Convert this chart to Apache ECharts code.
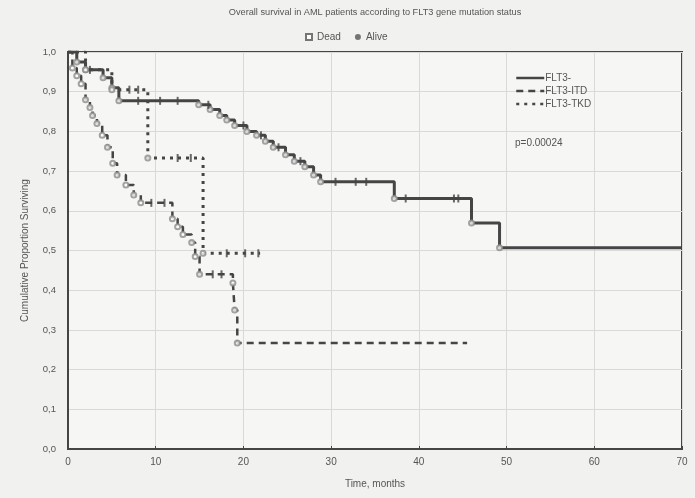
<!DOCTYPE html>
<html><head><meta charset="utf-8">
<script src="https://cdn.jsdelivr.net/npm/echarts@6/dist/echarts.min.js"></script>
<style>html,body{margin:0;padding:0;background:#f1f1ef}#c{width:695px;height:498px}</style>
</head><body><div id="c"></div>
<script>
// FLT3- (wild type): event times and survival after each event
const negTimes = [0, 1, 2, 4, 5, 5.8, 14.9, 16.2, 17.3, 18.1, 19, 20.4, 21.5, 22.5, 23.4, 24.8, 25.8, 27, 28, 28.8, 37.2, 46, 49.2];
const negSurv  = [1.0, 0.975, 0.955, 0.935, 0.91, 0.877, 0.867, 0.855, 0.84, 0.829, 0.815, 0.80, 0.79, 0.775, 0.76, 0.741, 0.725, 0.711, 0.69, 0.673, 0.631, 0.569, 0.507];
const negEnd = 70;
const negCensor = [2.5, 8, 10.5, 12.5, 16, 20, 22, 24, 26.5, 30.5, 32.8, 34, 38.5, 44, 44.5];

// FLT3-ITD
const itdTimes = [0, 0.5, 1, 1.5, 2, 2.5, 2.8, 3.3, 3.9, 4.5, 5.1, 5.6, 6.6, 7.5, 8.3, 11.9, 12.5, 13.1, 14.1, 14.5, 15, 18.8, 19.0, 19.3];
const itdSurv  = [1.0, 0.96, 0.94, 0.92, 0.88, 0.86, 0.84, 0.82, 0.79, 0.76, 0.72, 0.69, 0.665, 0.64, 0.62, 0.58, 0.56, 0.54, 0.52, 0.485, 0.44, 0.418, 0.35, 0.267];
const itdEnd = 45.5;
const itdCensor = [9.5, 11, 16.5, 17.5];

// FLT3-TKD
const tkdTimes = [0, 2, 5, 9.1, 15.4];
const tkdSurv  = [1.0, 0.955, 0.905, 0.733, 0.493];
const tkdEnd = 21.9;
const tkdCensor = [7, 8, 12.5, 14, 18.1, 20.2, 21.7];

const xTicks = [0, 10, 20, 30, 40, 50, 60, 70];
const yTicks = [0, 0.1, 0.2, 0.3, 0.4, 0.5, 0.6, 0.7, 0.8, 0.9, 1.0];

const titleText = 'Overall survival in AML patients according to FLT3 gene mutation status';
const pText = 'p=0.00024';

function curve(times, surv, end) {
  const d = times.map((t, i) => [t, surv[i]]);
  d.push([end, surv[surv.length - 1]]);
  return d;
}
function events(times, surv) {
  return times.slice(1).map((t, i) => [t, surv[i + 1]]);
}
function survAt(times, surv, t) {
  let v = surv[0];
  for (let i = 0; i < times.length; i++) if (times[i] <= t) v = surv[i];
  return v;
}
function censors(times, surv, cs) { return cs.map(t => [t, survAt(times, surv, t)]); }

const dead = [].concat(events(negTimes, negSurv), events(itdTimes, itdSurv), events(tkdTimes, tkdSurv));
const alive = [].concat(censors(negTimes, negSurv, negCensor), censors(itdTimes, itdSurv, itdCensor), censors(tkdTimes, tkdSurv, tkdCensor));

const ink = '#454545';
const txt = '#555';
const font = 'Liberation Sans, Arial, sans-serif';

const chart = echarts.init(document.getElementById('c'));
chart.setOption({
  backgroundColor: '#f1f1ef',
  animation: false,
  textStyle: { fontFamily: font },
  grid: { left: 68, right: 13, top: 52, bottom: 49, show: true, backgroundColor: '#f6f6f4', borderColor: ink, borderWidth: 2 },
  graphic: [
    { type: 'text', x: 375, y: 8, style: { text: titleText, font: '9.2px ' + font, fill: txt, align: 'center' } },
    { type: 'text', x: 515, y: 138, style: { text: pText, font: '10px ' + font, fill: txt } }
  ],
  legend: [
    { data: [{ name: 'Dead', icon: 'emptyRect' }, { name: 'Alive', icon: 'circle' }], top: 27, left: 300, itemWidth: 6, itemHeight: 6, itemGap: 14,
      itemStyle: { color: '#555', borderColor: '#555' },
      textStyle: { fontSize: 10, color: txt, fontFamily: font } },
    { data: ['FLT3-', 'FLT3-ITD', 'FLT3-TKD'], orient: 'vertical', left: 510, top: 68, itemWidth: 28, itemHeight: 8, itemGap: 3,
      itemStyle: { opacity: 0 }, lineStyle: { width: 2.5 },
      textStyle: { fontSize: 10, color: txt, fontFamily: font, padding: [0, 0, 0, -4] } }
  ],
  xAxis: {
    type: 'value', min: 0, max: 70, interval: 10,
    name: 'Time, months', nameLocation: 'middle', nameGap: 30,
    nameTextStyle: { fontSize: 10, color: txt },
    axisLine: { show: true, lineStyle: { color: ink, width: 2 } },
    axisTick: { show: true, length: 3, inside: true, lineStyle: { color: ink } },
    axisLabel: { fontSize: 10, color: txt, margin: 8, formatter: v => xTicks.includes(v) ? String(v) : '' },
    splitLine: { show: true, lineStyle: { color: '#d9d9d7', width: 1 } }
  },
  yAxis: {
    type: 'value', min: 0, max: 1, interval: 0.1,
    name: 'Cumulative Proportion Surviving', nameLocation: 'middle', nameGap: 38,
    nameTextStyle: { fontSize: 10, color: txt },
    axisLine: { show: true, lineStyle: { color: ink, width: 2 } },
    axisTick: { show: false },
    axisLabel: { fontSize: 9.5, color: txt, margin: 12, formatter: v => v.toFixed(1).replace('.', ',') },
    splitLine: { show: true, lineStyle: { color: '#d9d9d7', width: 1 } }
  },
  series: [
    { name: 'FLT3-', type: 'line', step: 'end', symbol: 'none', data: curve(negTimes, negSurv, negEnd),
      lineStyle: { color: ink, width: 3 }, itemStyle: { color: ink }, z: 3 },
    { name: 'FLT3-ITD', type: 'line', step: 'end', symbol: 'none', data: curve(itdTimes, itdSurv, itdEnd),
      lineStyle: { color: ink, width: 2.5, type: [7, 5] }, itemStyle: { color: ink }, z: 3 },
    { name: 'FLT3-TKD', type: 'line', step: 'end', symbol: 'none', data: curve(tkdTimes, tkdSurv, tkdEnd),
      lineStyle: { color: ink, width: 3, type: [3, 5] }, itemStyle: { color: ink }, z: 3 },
    { name: 'Dead', type: 'scatter', data: dead, symbol: 'emptyCircle', symbolSize: 5,
      itemStyle: { color: '#8c8c8c', borderWidth: 1 }, z: 4 },
    { name: 'Alive', type: 'scatter', data: alive, symbol: 'rect', symbolSize: [2, 8],
      itemStyle: { color: ink }, z: 4 }
  ]
});
</script></body></html>
